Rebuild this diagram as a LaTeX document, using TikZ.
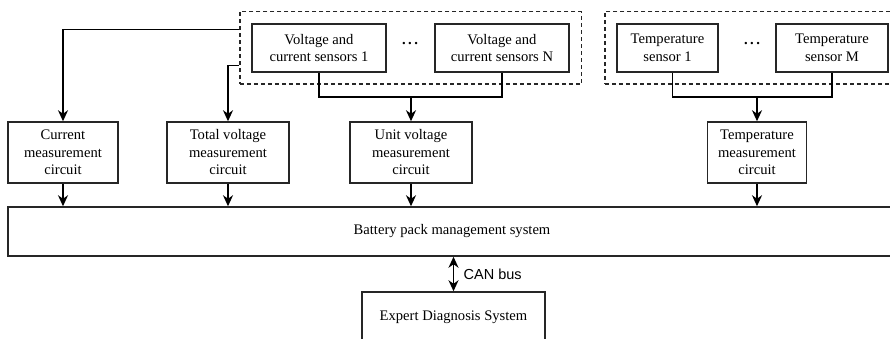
\documentclass[tikz,border=0pt]{standalone}
\usepackage{fontspec}
\setmainfont{Liberation Serif}
\newfontfamily\labelfont{Liberation Sans}
\usetikzlibrary{arrows.meta, positioning, fit}

\begin{document}
\begin{tikzpicture}[x=1pt, y=-1pt,
            font=\fontsize{14.6}{17.5}\selectfont,
            >={Stealth[length=11pt, width=10pt, inset=3.5pt]},
            % Styles
            block/.style={rectangle, draw=black!85, line width=1.5pt, align=center, inner sep=0pt},
            sensor/.style={block, minimum height=48pt},
            circuit/.style={block, minimum height=61pt},
            group/.style={draw=black!85, line width=1.5pt, dash pattern=on 4pt off 3pt, inner sep=11.5pt},
            line/.style={draw, line width=1.6pt, ->},
            wire/.style={draw, line width=1.6pt},
            dots/.style={font=\bfseries\fontsize{14.6}{17.5}\selectfont}
        ]

        \path[use as bounding box, clip] (0,0) rectangle (890,339);

        % Voltage and current sensors
        \node [sensor, minimum width=134pt] (v1) at (319,48) {Voltage and\\current sensors 1};
        \node [sensor, minimum width=134pt] (vn) at (502,48) {Voltage and\\current sensors N};
        \node [dots] (vdots) at (410,44) {.\hspace{2.5pt}.\hspace{2.5pt}.};
        \node [group, fit=(v1) (vn)] (vgroup) {};

        % Temperature sensors
        \node [sensor, minimum width=101pt] (t1) at (667.5,48) {Temperature\\sensor 1};
        \node [sensor, minimum width=112pt] (tm) at (832,48) {Temperature\\sensor M};
        \node [dots] (tdots) at (752,44) {.\hspace{2.5pt}.\hspace{2.5pt}.};
        \node [group, fit=(t1) (tm)] (tgroup) {};

        % Measurement circuits
        \node [circuit, minimum width=110pt] (current) at (63,152.5) {Current\\measurement\\circuit};
        \node [circuit, minimum width=122pt] (total) at (228,152.5) {Total voltage\\measurement\\circuit};
        \node [circuit, minimum width=122pt] (unit) at (411,152.5) {Unit voltage\\measurement\\circuit};
        \node [circuit, minimum width=99pt] (temp) at (757,152.5) {Temperature\\measurement\\circuit};

        % BMS
        \node [block, minimum width=888pt, minimum height=49pt] (bms) at (452,231.5) {Battery pack management system};

        % Expert system
        \node [block, minimum width=183pt, minimum height=50pt] (expert) at (453.5,317) {Expert Diagnosis System};

        % Edges
        \coordinate (vjoin) at (411,97);
        \coordinate (tjoin) at (757,97);
        \path [wire] (v1.south) |- (vjoin) -| (vn.south);
        \path [line] (vjoin) -- (unit);
        \path [wire] ([xshift=5pt]t1.south) |- (tjoin) -| (tm.south);
        \path [line] (tjoin) -- (temp);
        \path [line] ([yshift=18.5pt]vgroup.west) -| (current);
        \path [line] ([yshift=-17.5pt]vgroup.west) -| (total);
        \foreach \src in {current, total, unit, temp}
            \path [line] (\src) -- (\src.south |- bms.north);
        \path [line, <->] (bms.south -| expert.north) -- node[right=6pt, font=\labelfont\fontsize{14.5}{17}\selectfont] {CAN bus} (expert);

    \end{tikzpicture}
\end{document}
